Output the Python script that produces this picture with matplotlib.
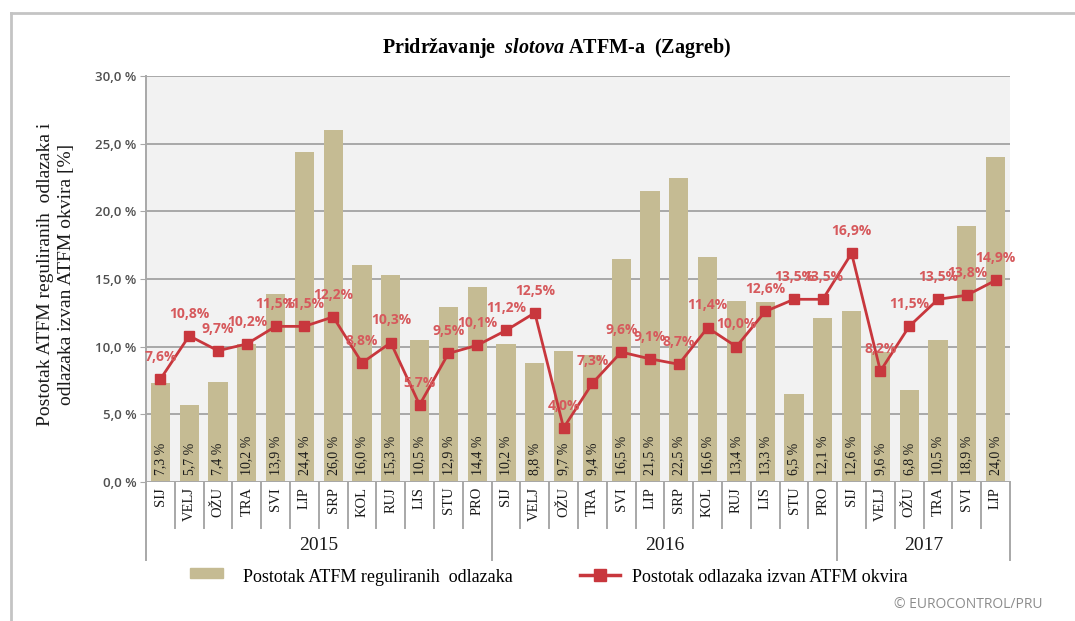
import matplotlib
matplotlib.use("Agg")
import matplotlib.pyplot as plt
from matplotlib.lines import Line2D
from matplotlib.patches import Rectangle

months = ["SIJ", "VELJ", "OŽU", "TRA", "SVI", "LIP", "SRP", "KOL", "RUJ", "LIS", "STU", "PRO",
          "SIJ", "VELJ", "OŽU", "TRA", "SVI", "LIP", "SRP", "KOL", "RUJ", "LIS", "STU", "PRO",
          "SIJ", "VELJ", "OŽU", "TRA", "SVI", "LIP"]
years = ["2015", "2016", "2017"]
year_counts = [12, 12, 6]

atfm_regulated = [7.3, 5.7, 7.4, 10.2, 13.9, 24.4, 26.0, 16.0, 15.3, 10.5, 12.9, 14.4,
                  10.2, 8.8, 9.7, 9.4, 16.5, 21.5, 22.5, 16.6, 13.4, 13.3, 6.5, 12.1,
                  12.6, 9.6, 6.8, 10.5, 18.9, 24.0]
outside_window = [7.6, 10.8, 9.7, 10.2, 11.5, 11.5, 12.2, 8.8, 10.3, 5.7, 9.5, 10.1,
                  11.2, 12.5, 4.0, 7.3, 9.6, 9.1, 8.7, 11.4, 10.0, 12.6, 13.5, 13.5,
                  16.9, 8.2, 11.5, 13.5, 13.8, 14.9]

yticks = [0, 5, 10, 15, 20, 25, 30]

plt.rcParams["mathtext.fontset"] = "custom"
plt.rcParams["mathtext.it"] = "Liberation Serif:bold:italic"
plt.rcParams["mathtext.rm"] = "Liberation Serif:bold"

BAR = "#c5bb93"
RED = "#c8373d"
LBL = "#d6595c"
GRID = "#a8a8a8"
SERIF = "Liberation Serif"

W, H = 1075, 621
fig = plt.figure(figsize=(W / 100, H / 100), dpi=100)
ax = fig.add_axes([146 / W, 1 - 482 / H, (1010 - 146) / W, (482 - 76) / H])
ax.set_facecolor("#f2f2f2")

x = list(range(len(months)))
ax.bar(x, atfm_regulated, width=0.66, color=BAR, zorder=2)
ax.plot(x, outside_window, color=RED, lw=2.0, marker="s", ms=7.5, zorder=4)

for xi, v in zip(x, atfm_regulated):
    ax.text(xi, 0.5, f"{v:.1f} %".replace(".", ","), rotation=90, ha="center", va="bottom",
            family=SERIF, fontsize=10, color="#1a1a1a", zorder=5)
for xi, v in zip(x, outside_window):
    ax.annotate(f"{v:.1f}%".replace(".", ","), (xi, v), xytext=(0, 16), textcoords="offset points",
                ha="center", va="center", family="Open Sans", fontweight="bold",
                fontsize=10, color=LBL, zorder=6)

ax.set_xlim(-0.5, len(months) - 0.5)
ax.set_ylim(0, 30)
ax.set_yticks(yticks)
ax.set_yticklabels([f"{t:.1f} %".replace(".", ",") for t in yticks], family="Open Sans",
                   fontweight="semibold", fontsize=9.5, color="#505050")
ax.tick_params(axis="y", length=4, color=GRID, pad=3)
ax.tick_params(axis="x", length=0, labelbottom=False)
ax.grid(True, axis="y", color=GRID, lw=1.4, zorder=1)
ax.set_axisbelow(True)
for s in ["top", "right", "bottom"]:
    ax.spines[s].set_visible(False)
ax.spines["left"].set_color(GRID)
ax.spines["left"].set_linewidth(1.4)
ax.axhline(0, color=GRID, lw=1.4, zorder=3)

# category axis below plot
to_ax = ax.get_xaxis_transform()
cell_bot = -(528 - 482) / (482 - 76)
year_bot = -(560 - 482) / (482 - 76)
year_y = -(546 - 482) / (482 - 76)
for i, m in enumerate(months):
    ax.text(i, -0.012, m, rotation=90, ha="center", va="top", family=SERIF, fontsize=10.5,
            color="#1a1a1a", transform=to_ax, clip_on=False)
edges = [-0.5]
for c in year_counts:
    edges.append(edges[-1] + c)
for k in range(len(months) + 1):
    xe = k - 0.5
    bot = year_bot if xe in edges else cell_bot
    ax.add_line(Line2D([xe, xe], [0, bot], transform=to_ax, color=GRID, lw=1.4, clip_on=False))
for yr, a, b in zip(years, edges[:-1], edges[1:]):
    ax.text((a + b) / 2, year_y, yr, ha="center", va="center", family=SERIF, fontsize=14,
            color="#1a1a1a", transform=to_ax, clip_on=False)

fig.text(557 / W, 1 - 48 / H, r"Pridržavanje  $\mathit{slotova}$ ATFM-a  (Zagreb)", ha="center",
         va="center", family=SERIF, fontweight="bold", fontsize=14.5)
fig.text(56 / W, 1 - 274 / H, "Postotak ATFM reguliranih  odlazaka i\nodlazaka izvan ATFM okvira [%]",
         rotation=90, ha="center", va="center", multialignment="center", family=SERIF,
         fontsize=14, color="#1a1a1a", linespacing=1.3)

# legend
fig.patches.append(Rectangle((190 / W, 1 - 578 / H), 33 / W, 10 / H, transform=fig.transFigure,
                             color=BAR))
fig.text(243 / W, 1 - 578 / H, "Postotak ATFM reguliranih  odlazaka", ha="left", va="center",
         family=SERIF, fontsize=13)
fig.lines.append(Line2D([580 / W, 620 / W], [1 - 575 / H] * 2, transform=fig.transFigure,
                        color=RED, lw=2.5))
fig.lines.append(Line2D([600 / W], [1 - 575 / H], transform=fig.transFigure, color=RED,
                        marker="s", ms=8, lw=0))
fig.text(632 / W, 1 - 578 / H, "Postotak odlazaka izvan ATFM okvira", ha="left", va="center",
         family=SERIF, fontsize=13)
fig.text(1042 / W, 1 - 605 / H, "© EUROCONTROL/PRU", ha="right", va="center",
         family="Open Sans", fontsize=10, color="#8c8c8c")

# outer frame
fig.lines.append(Line2D([11 / W, 11 / W], [0, 1 - 13 / H], transform=fig.transFigure,
                        color="#c4c4c4", lw=2))
fig.lines.append(Line2D([11 / W, 1], [1 - 13 / H] * 2, transform=fig.transFigure,
                        color="#c4c4c4", lw=2))

fig.savefig("out.png", dpi=100)
